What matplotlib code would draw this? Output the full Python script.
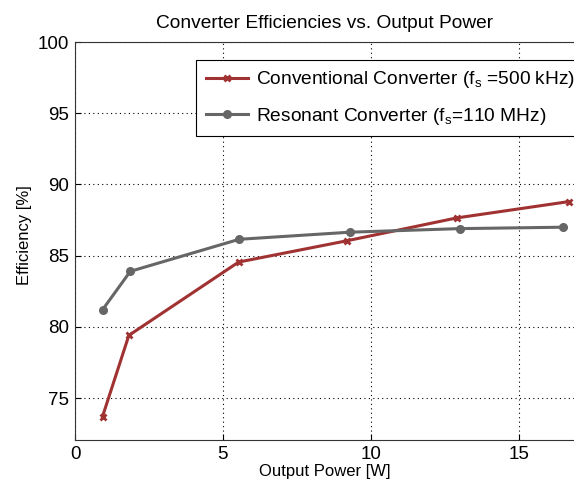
import matplotlib.pyplot as plt

plt.rcParams['font.family'] = ['Liberation Sans', 'DejaVu Sans']

# output power [W] and efficiency [%]
p_conv = [0.93, 1.82, 5.53, 9.2, 12.9, 16.7]
eff_conv = [73.7, 79.4, 84.55, 86.05, 87.65, 88.8]
p_res = [0.93, 1.87, 5.55, 9.3, 13.0, 16.5]
eff_res = [81.2, 83.9, 86.15, 86.65, 86.9, 87.0]

xticks = [0, 5, 10, 15]
yticks = [75, 80, 85, 90, 95, 100]

fig = plt.figure(figsize=(5.74, 4.84), dpi=100)
ax = fig.add_axes([0.1307, 0.0909, 0.8693, 0.822])

ax.plot(p_conv, eff_conv, color='#a03232', lw=2.2, marker='x', ms=5, mew=2,
        label=r'Conventional Converter (f$\mathregular{_s}$ =500 kHz)')
ax.plot(p_res, eff_res, color='#666666', lw=2.2, marker='o', ms=5.5,
        label=r'Resonant Converter (f$\mathregular{_s}$=110 MHz)')

ax.set_xlim(0, 16.87)
ax.set_ylim(72.05, 100)
ax.set_xticks(xticks)
ax.set_yticks(yticks)
ax.tick_params(direction='in', labelsize=13.5, length=4, pad=4)
ax.grid(True, linestyle=(0, (1, 3)), color='black', lw=0.8)
ax.spines['right'].set_visible(False)
for s in ['left', 'bottom', 'top']:
    ax.spines[s].set_color('#333333')

ax.set_xlabel('Output Power [W]', fontsize=12, labelpad=1)
ax.set_ylabel('Efficiency [%]', fontsize=12)
ax.yaxis.set_label_coords(-0.086, 0.515)
ax.set_title('Converter Efficiencies vs. Output Power', fontsize=13.8, pad=10)

leg = ax.legend(loc='upper left', bbox_to_anchor=(0.224, 0.98), fontsize=13.8,
                fancybox=False, framealpha=1, edgecolor='black',
                handlelength=2.2, handletextpad=0.4, borderpad=0.5,
                labelspacing=0.8)
leg.get_frame().set_linewidth(0.8)

fig.savefig('out.png')
